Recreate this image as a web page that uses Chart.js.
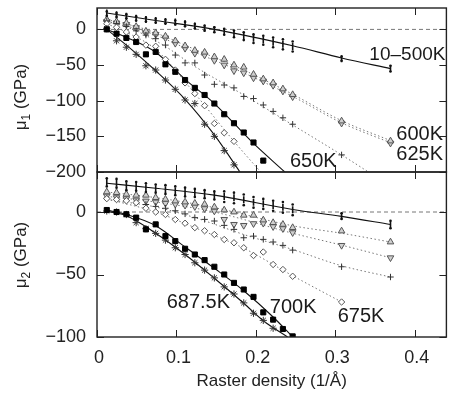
<!DOCTYPE html>
<html>
<head>
<meta charset="utf-8">
<script src="https://cdn.jsdelivr.net/npm/chart.js@4.4.0/dist/chart.umd.min.js"></script>
<style>
  body { margin: 0; background: #fff; }
  #wrap { position: relative; width: 452px; height: 401px; }
  canvas { position: absolute; left: 0; top: 0; }
</style>
</head>
<body>
<div id="wrap">
  <canvas id="topPanel" width="452" height="401"></canvas>
  <canvas id="botPanel" width="452" height="401"></canvas>
</div>
<script>
// raster densities (1/Å) at which the moduli were computed
const density = [0.0123, 0.0246, 0.0370, 0.0493, 0.0616, 0.0739, 0.0862, 0.0986, 0.1109, 0.1232, 0.1355,
                 0.1478, 0.1602, 0.1725, 0.1848, 0.1971, 0.2094, 0.2218, 0.2341, 0.2464, 0.3080, 0.3696];

const xTicks = [0, 0.1, 0.2, 0.3, 0.4];
const mu1Ticks = [0, -50, -100, -150, -200];
const mu2Ticks = [0, -50, -100];

// ---- mu1 (top panel) ----
const mu1Low    = [23, 20.5, 18.6, 15.8, 14, 12.5, 11.2, 10.2, 7.9, 4.7, 1.9, 0, -3, -6, -9, -12.5, -15, -18, -21, -24, -41, -55];
const mu1LowHi  = [25, 23, 21, 18.5, 16.5, 15, 13.5, 12.5, 10.5, 7.5, 5, 3, 1, -1.5, -4, -7, -9, -11.5, -14, -17, -38, -51];
const mu1LowLo  = [19, 17.5, 15.5, 12.5, 11, 9.5, 8.5, 7, 4.5, 1.5, -2, -4, -7.5, -11, -15, -19, -21.5, -25, -28, -31, -44, -59];
const mu1T600   = [14, 11, 9, 4, -2.5, -5, -9.5, -16, -23, -29.5, -32, -38.5, -42, -50, -53, -63, -69.5, -75, -83.5, -91.5, -128.5, -156.5];
const mu1T625   = [11, 9, 7, 2.5, -5, -7, -12, -19.5, -26.5, -33.5, -36, -43.5, -50, -58, -61, -68, -72.5, -78.5, -86.5, -94.5, -131.5, -159.5];
const mu1T650   = [12, 8, 4, -2, -8, -13, -22, -36, -47, -47, -64, -77, -78, -82, -94, -97, -106, -115, -124, -133, -176, null];
const mu1T675   = [8, 3, -3.7, -10.7, -22, -23.7, -42, -57, -75, -90, -107, -132, -145, -157, null, null, null, null, null, null, null, null];
const mu1T6875  = [1, -16, -25, -35, -51, -57, -71, -84, -99, -104, -133, -150, -170, -190, null, null, null, null, null, null, null, null];
const mu1T700   = [0, -6, -12, -17.7, -35, -31.6, -49, -59.5, -71, -82, -92, -104, -119, -131.6, -144.6, -158.6, -184, null, null, null, null, null];

const mu1FitLow  = [[0.0123, 23], [0.0739, 12.5], [0.1478, 0], [0.2464, -23], [0.3080, -40], [0.3696, -55]];
const mu1Fit600  = [[0.0123, 14], [0.0616, 0], [0.1232, -28], [0.1848, -57], [0.2464, -91], [0.3080, -128], [0.3696, -156]];
const mu1Fit625  = [[0.0123, 11], [0.0616, -3], [0.1232, -32], [0.1848, -61], [0.2464, -94], [0.3080, -131], [0.3696, -159]];
const mu1Fit650  = [[0.0123, 12], [0.0493, -2], [0.0862, -24], [0.1232, -52], [0.1848, -92], [0.2464, -134], [0.3080, -176], [0.3696, -220]];
const mu1Fit675  = [[0.0123, 8], [0.0370, -4], [0.0739, -28], [0.1232, -90], [0.1725, -157], [0.2100, -205]];
const mu1Fit6875 = [[0.0123, 0], [0.0370, -22], [0.0739, -58], [0.1109, -98], [0.1478, -148], [0.1800, -200]];
const mu1Fit700  = [[0.0123, 0], [0.0370, -11], [0.0739, -32], [0.1109, -70], [0.1478, -104], [0.1971, -160], [0.2365, -200]];

// ---- mu2 (bottom panel) ----
const mu2Low    = [24, 23, 21, 20.4, 19.5, 18.7, 17.9, 16.8, 16, 15.2, 14.1, 13.3, 12.5, 11.4, 9.8, 7.9, 6.6, 5.2, 3.9, 1.8, -3.2, -10];
const mu2LowHi  = [27, 26.5, 24.5, 24, 23, 22, 21.5, 20.5, 19.5, 18.5, 17.5, 16.5, 16.5, 15.5, 14, 12, 10.5, 9, 8, 6, -1, -7];
const mu2LowLo  = [20.5, 19.5, 17.5, 17, 16, 15.5, 14.5, 13.5, 12.5, 12, 11, 10, 8, 7, 5.5, 3.5, 2.5, 1, -0.5, -2.5, -5.5, -13];
const mu2T600   = [16.1, 15.5, 14.2, 13.4, 13.4, 11.5, 10.2, 8.8, 8, 7, 6.2, 4, 1.6, 0, -2.6, -2.6, -6.4, -8.5, -9.9, -12.5, -15.2, -24];
const mu2T625   = [12.8, 11.5, 10.7, 9.6, 8.8, 8, 7, 6.2, 5.4, 4.3, 2.7, 0.8, -5.9, -9.9, -10.7, -9.3, -9, -11.7, -13.3, -16.5, -26.7, -36.6];
const mu2T650   = [11, 10, 9, 7.5, 6, 4.5, 3, 1, -1.5, -4.5, -5.9, -7.2, -10.7, -13.9, -20.6, -19.3, -21.9, -24, -26.7, -30.5, -43.8, -52];
const mu2T675   = [10.7, 10, 9, 7.5, 3, 0, -2, -6, -9, -12.5, -15, -18, -22, -24.6, -28.6, -34.8, -32, -42, -46, -51.4, -72, null];
const mu2T6875  = [0.8, 0, -2, -8.5, -13.3, -17.1, -22.5, -28.6, -34, -40.6, -46.5, -52.7, -59.9, -65.6, -72.7, -81, -86.7, -93, null, null, null, null];
const mu2T700   = [1.6, 0, -1.8, -4.5, -13.9, -9.9, -19.3, -23.3, -29.4, -34, -38.5, -43.8, -50, -56.7, -62, -67.9, -80.3, -86.1, -93.6, -99.5, null, null];

const mu2FitLow  = [[0.0123, 23], [0.0739, 19], [0.1478, 13.5], [0.2464, 2], [0.3080, -3.5], [0.3696, -10]];
const mu2Fit600  = [[0.0123, 16], [0.0739, 11.5], [0.1478, 3.5], [0.2464, -11], [0.3080, -17], [0.3696, -24]];
const mu2Fit625  = [[0.0123, 12.5], [0.0739, 8], [0.1478, 0], [0.2464, -17], [0.3080, -26.5], [0.3696, -36.6]];
const mu2Fit650  = [[0.0123, 10], [0.0739, 4], [0.1232, -4.5], [0.1848, -18], [0.2464, -30], [0.3080, -43], [0.3696, -52]];
const mu2Fit675  = [[0.0123, 10.5], [0.0739, 0], [0.1232, -12.5], [0.1848, -29], [0.2464, -51], [0.3080, -72]];
const mu2Fit6875 = [[0.0123, 0.5], [0.0370, -3], [0.0739, -17], [0.1109, -34], [0.1478, -53], [0.1848, -73], [0.2094, -87], [0.2400, -100]];
const mu2Fit700  = [[0.0123, 1.5], [0.0370, -2], [0.0739, -11], [0.1109, -28], [0.1478, -45], [0.1848, -63], [0.2218, -84], [0.2464, -100]];

const zeroLine = [[0, 0], [0.44, 0]];

const FONT = '"Liberation Sans", Arial, Helvetica, sans-serif';

// marker looks per temperature
const styles = {
  lowBar: { pointStyle: 'line', pointRotation: 90, pointRadius: 3.5, pointBorderWidth: 1.6, pointBorderColor: '#111' },
  lowDot: { pointStyle: 'circle', pointRadius: 1.3, pointBorderWidth: 0, pointBackgroundColor: '#111' },
  t600:   { pointStyle: 'triangle', pointRadius: 3.8, pointBorderWidth: 1, pointBorderColor: '#555', pointBackgroundColor: '#cfcfcf' },
  t625:   { pointStyle: 'triangle', pointRotation: 180, pointRadius: 3.8, pointBorderWidth: 1, pointBorderColor: '#555', pointBackgroundColor: '#cfcfcf' },
  t650:   { pointStyle: 'cross', pointRadius: 3.2, pointBorderWidth: 1, pointBorderColor: '#333' },
  t675:   { pointStyle: 'rectRot', pointRadius: 3.2, pointBorderWidth: 1, pointBorderColor: '#555', pointBackgroundColor: '#fff' },
  t6875:  { pointStyle: 'star', pointRadius: 3.6, pointBorderWidth: 1, pointBorderColor: '#333' },
  t700:   { pointStyle: 'rect', pointRadius: 3.6, pointBorderWidth: 1, pointBorderColor: '#000', pointBackgroundColor: '#000' }
};

function markers(label, ys, style) {
  return Object.assign({
    label: label,
    data: density.map((x, i) => ({ x: x, y: ys[i] })).filter(p => p.y !== null),
    showLine: false
  }, style);
}

function curve(label, pairs, kind) {
  return {
    label: label,
    data: pairs.map(p => ({ x: p[0], y: p[1] })),
    showLine: true,
    pointRadius: 0,
    borderColor: kind === 'solid' ? '#111' : '#777',
    borderWidth: kind === 'solid' ? 1.1 : 1,
    borderDash: kind === 'solid' ? [] : (kind === 'zero' ? [4, 3] : [1.5, 2.5]),
    cubicInterpolationMode: 'monotone'
  };
}

function fmt(v) {
  return v < 0 ? '\u2212' + Math.abs(v) : String(v);
}

// box, inward ticks, tick labels, titles and temperature labels
const framePlugin = {
  id: 'frame',
  afterDraw(chart, args, o) {
    const ctx = chart.ctx, a = chart.chartArea;
    const x = chart.scales.x, y = chart.scales.y;
    ctx.save();
    ctx.strokeStyle = '#222';
    ctx.lineWidth = 1;
    ctx.beginPath();
    xTicks.forEach(v => {
      const px = Math.round(x.getPixelForValue(v)) + 0.5;
      ctx.moveTo(px, a.top); ctx.lineTo(px, a.top + 7);
      ctx.moveTo(px, a.bottom); ctx.lineTo(px, a.bottom - 7);
    });
    o.yTicks.forEach(v => {
      const py = Math.round(y.getPixelForValue(v)) + 0.5;
      ctx.moveTo(a.left, py); ctx.lineTo(a.left + 7, py);
      ctx.moveTo(a.right, py); ctx.lineTo(a.right - 7, py);
    });
    ctx.stroke();
    ctx.lineWidth = 1.4;
    ctx.strokeRect(a.left, a.top, a.right - a.left, a.bottom - a.top);

    ctx.fillStyle = '#222';
    ctx.font = '18px ' + FONT;
    ctx.textAlign = 'right';
    ctx.textBaseline = 'middle';
    o.yTicks.forEach(v => ctx.fillText(fmt(v), a.left - 11, y.getPixelForValue(v)));

    if (o.xLabels) {
      ctx.textAlign = 'center';
      ctx.textBaseline = 'top';
      xTicks.forEach(v => ctx.fillText(String(v), x.getPixelForValue(v) + 2, a.bottom + 12));
      ctx.font = '17px ' + FONT;
      ctx.fillText('Raster density (1/\u00C5)', (a.left + a.right) / 2, a.bottom + 36);
    }

    // rotated axis title with subscript
    ctx.save();
    ctx.translate(o.titleX, o.titleY);
    ctx.rotate(-Math.PI / 2);
    ctx.textBaseline = 'alphabetic';
    ctx.textAlign = 'left';
    const big = '17px ' + FONT, small = '12px ' + FONT;
    ctx.font = big; const w1 = ctx.measureText('\u03BC').width;
    ctx.font = small; const w2 = ctx.measureText(o.sub).width;
    ctx.font = big; const w3 = ctx.measureText(' (GPa)').width;
    let cx = -(w1 + w2 + w3) / 2;
    ctx.fillText('\u03BC', cx, 6); cx += w1;
    ctx.font = small; ctx.fillText(o.sub, cx, 10); cx += w2;
    ctx.font = big; ctx.fillText(' (GPa)', cx, 6);
    ctx.restore();

    ctx.textAlign = 'left';
    ctx.textBaseline = 'middle';
    ctx.fillStyle = '#1a1a1a';
    o.notes.forEach(n => {
      ctx.font = (n.size || 20) + 'px ' + FONT;
      ctx.fillText(n.text, x.getPixelForValue(n.x), y.getPixelForValue(n.y));
    });
    ctx.restore();
  }
};

function makePanel(id, datasets, yMin, yMax, padding, frame) {
  return new Chart(document.getElementById(id), {
    type: 'scatter',
    data: { datasets: datasets },
    options: {
      responsive: false,
      animation: false,
      events: [],
      layout: { padding: padding },
      scales: {
        x: { type: 'linear', min: 0, max: 0.44, display: false },
        y: { type: 'linear', min: yMin, max: yMax, display: false }
      },
      plugins: { legend: { display: false }, tooltip: { enabled: false }, frame: frame }
    },
    plugins: [framePlugin]
  });
}

makePanel('topPanel', [
  markers('10-500K', mu1Low, styles.lowBar),
  markers('10-500K hi', mu1LowHi, styles.lowDot),
  markers('10-500K lo', mu1LowLo, styles.lowDot),
  markers('700K', mu1T700, styles.t700),
  markers('687.5K', mu1T6875, styles.t6875),
  markers('675K', mu1T675, styles.t675),
  markers('650K', mu1T650, styles.t650),
  markers('600K', mu1T600, styles.t600),
  markers('625K', mu1T625, styles.t625),
  curve('fit 10-500K', mu1FitLow, 'solid'),
  curve('fit 600K', mu1Fit600, 'dotted'),
  curve('fit 625K', mu1Fit625, 'dotted'),
  curve('fit 650K', mu1Fit650, 'dotted'),
  curve('fit 675K', mu1Fit675, 'dotted'),
  curve('fit 687.5K', mu1Fit6875, 'solid'),
  curve('fit 700K', mu1Fit700, 'solid'),
  curve('zero', zeroLine, 'zero')
], -200, 30, { left: 97, right: 4, top: 8, bottom: 229 }, {
  yTicks: mu1Ticks, xLabels: false, sub: '1', titleX: 20, titleY: 97,
  notes: [
    { text: '10\u2013500K', x: 0.343, y: -36, size: 19 },
    { text: '600K', x: 0.377, y: -147.5 },
    { text: '625K', x: 0.377, y: -175.5 },
    { text: '650K', x: 0.243, y: -185 }
  ]
});

makePanel('botPanel', [
  markers('10-500K', mu2Low, styles.lowBar),
  markers('10-500K hi', mu2LowHi, styles.lowDot),
  markers('10-500K lo', mu2LowLo, styles.lowDot),
  markers('700K', mu2T700, styles.t700),
  markers('687.5K', mu2T6875, styles.t6875),
  markers('675K', mu2T675, styles.t675),
  markers('650K', mu2T650, styles.t650),
  markers('600K', mu2T600, styles.t600),
  markers('625K', mu2T625, styles.t625),
  curve('fit 10-500K', mu2FitLow, 'solid'),
  curve('fit 600K', mu2Fit600, 'dotted'),
  curve('fit 625K', mu2Fit625, 'dotted'),
  curve('fit 650K', mu2Fit650, 'dotted'),
  curve('fit 675K', mu2Fit675, 'dotted'),
  curve('fit 687.5K', mu2Fit6875, 'solid'),
  curve('fit 700K', mu2Fit700, 'solid'),
  curve('zero', zeroLine, 'zero')
], -100, 32, { left: 97, right: 4, top: 172, bottom: 64 }, {
  yTicks: mu2Ticks, xLabels: true, sub: '2', titleX: 20, titleY: 255,
  notes: [
    { text: '687.5K', x: 0.0877, y: -72.5 },
    { text: '700K', x: 0.2176, y: -76.5 },
    { text: '675K', x: 0.3031, y: -83.7 }
  ]
});
</script>
</body>
</html>
